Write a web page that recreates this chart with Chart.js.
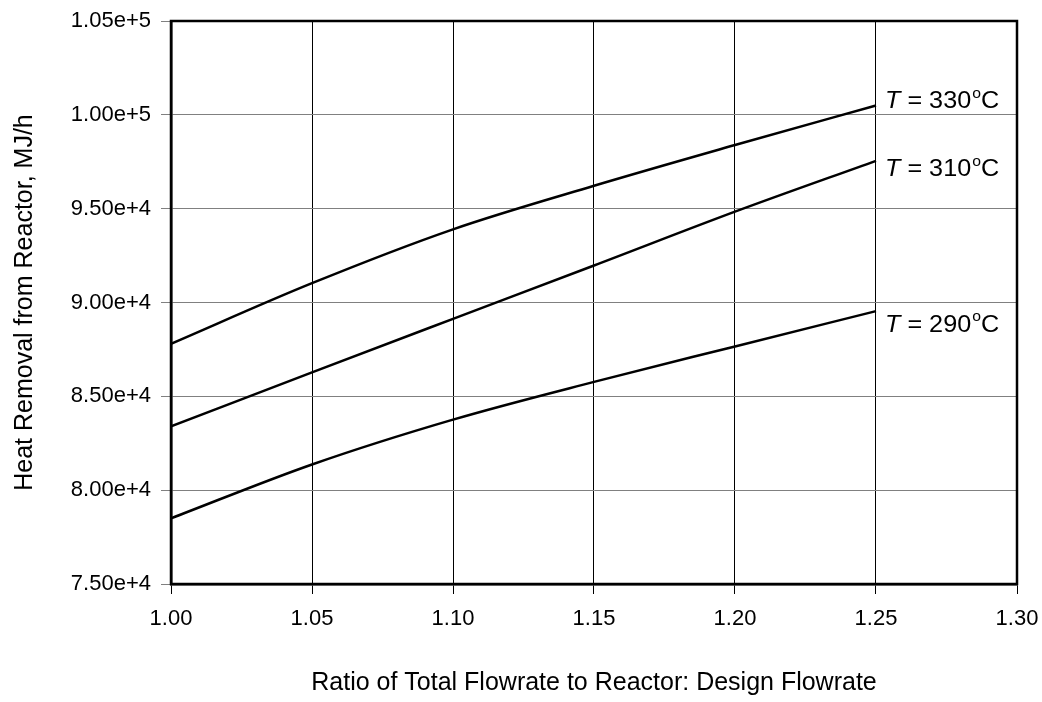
<!DOCTYPE html>
<html>
<head>
<meta charset="utf-8">
<script src="https://cdn.jsdelivr.net/npm/chart.js@4.4.1/dist/chart.umd.min.js"></script>
<style>
    html, body { margin: 0; padding: 0; background: #fff; }
    #wrap { width: 1042px; height: 702px; }
</style>
</head>
<body>
<div id="wrap"><canvas id="chart-1"></canvas></div>
<script>
// du lieu doc tu hinh
var flowRatio = [1.00, 1.05, 1.10, 1.15, 1.20, 1.25];
var heat330 = [87800, 91030, 93900, 96220, 98390, 100500];
var heat310 = [83400, 86280, 89130, 91970, 94840, 97550];
var heat290 = [78500, 81370, 83760, 85770, 87660, 89540];
var tempLabels = ['330', '310', '290'];

var FONT = "'Liberation Sans', Arial, sans-serif";

function toPoints(values) {
    return values.map(function (v, i) { return { x: flowRatio[i], y: v }; });
}

function lineSet(label, values) {
    return {
        label: label,
        data: toPoints(values),
        borderColor: '#000',
        backgroundColor: '#000',
        borderWidth: 2.5,
        pointRadius: 0,
        fill: false,
        cubicInterpolationMode: 'monotone'
    };
}

// khung do bao quanh vung ve
var framePlugin = {
    id: 'frame',
    afterDraw: function (chart) {
        var a = chart.chartArea;
        var ctx = chart.ctx;
        ctx.save();
        ctx.strokeStyle = '#000';
        ctx.lineWidth = 2.5;
        ctx.strokeRect(a.left, a.top, a.right - a.left, a.bottom - a.top);
        ctx.restore();
    }
};

// nhan T = ...oC o cuoi moi duong
var labelOffsetY = [-4, 9, 14];
var endLabelPlugin = {
    id: 'endLabels',
    afterDatasetsDraw: function (chart) {
        var ctx = chart.ctx;
        ctx.save();
        ctx.fillStyle = '#000';
        ctx.textBaseline = 'middle';
        ctx.textAlign = 'left';
        chart.data.datasets.forEach(function (ds, i) {
            var meta = chart.getDatasetMeta(i);
            var last = meta.data[meta.data.length - 1];
            var x = last.x + 9;
            var y = last.y + labelOffsetY[i];
            ctx.save();
            ctx.translate(x, y);
            ctx.scale(1.05, 1);
            var cx = 0;
            ctx.font = 'italic 24px ' + FONT;
            ctx.fillText('T', cx, 0);
            cx += ctx.measureText('T').width;
            ctx.font = '24px ' + FONT;
            var s = ' = ' + tempLabels[i];
            ctx.fillText(s, cx, 0);
            cx += ctx.measureText(s).width + 1;
            ctx.font = '15px ' + FONT;
            ctx.fillText('o', cx, -8);
            cx += ctx.measureText('o').width;
            ctx.font = '24px ' + FONT;
            ctx.fillText('C', cx, 0);
            ctx.restore();
        });
        ctx.restore();
    }
};

var ctx = document.getElementById('chart-1').getContext('2d');
var heatChart = new Chart(ctx, {
    type: 'line',
    data: {
        datasets: [
            lineSet('T = 330', heat330),
            lineSet('T = 310', heat310),
            lineSet('T = 290', heat290)
        ]
    },
    options: {
        responsive: true,
        maintainAspectRatio: false,
        animation: false,
        layout: {
            padding: { top: 21, right: 25, left: 0, bottom: 0 }
        },
        plugins: {
            legend: { display: false },
            tooltip: { enabled: false },
            colors: { enabled: false }
        },
        scales: {
            x: {
                type: 'linear',
                min: 1.00,
                max: 1.30,
                afterFit: function (scale) {
                    scale.height = 118;
                    scale.paddingLeft = 0;
                    scale.paddingRight = 0;
                },
                ticks: {
                    stepSize: 0.05,
                    padding: 12,
                    color: '#000',
                    font: { family: FONT, size: 22 },
                    callback: function (v) { return Number(v).toFixed(2); }
                },
                grid: { color: '#000', lineWidth: 1, tickLength: 10 },
                border: { color: '#000', width: 2.5 },
                title: {
                    display: true,
                    text: 'Ratio of Total Flowrate to Reactor: Design Flowrate',
                    color: '#000',
                    font: { family: FONT, size: 25 },
                    padding: { top: 0, bottom: 4 }
                }
            },
            y: {
                min: 75000,
                max: 105000,
                afterFit: function (scale) {
                    scale.width = 171;
                    scale.paddingTop = 0;
                    scale.paddingBottom = 0;
                },
                ticks: {
                    stepSize: 5000,
                    padding: 10,
                    color: '#000',
                    font: { family: FONT, size: 22 },
                    callback: function (v) { return Number(v).toExponential(2); }
                },
                grid: { color: '#808080', lineWidth: 1, tickLength: 10 },
                border: { color: '#000', width: 2.5 },
                title: {
                    display: true,
                    text: 'Heat Removal from Reactor, MJ/h',
                    color: '#000',
                    font: { family: FONT, size: 25 },
                    padding: { top: 10, bottom: 0 }
                }
            }
        }
    },
    plugins: [framePlugin, endLabelPlugin]
});
</script>
</body>
</html>
